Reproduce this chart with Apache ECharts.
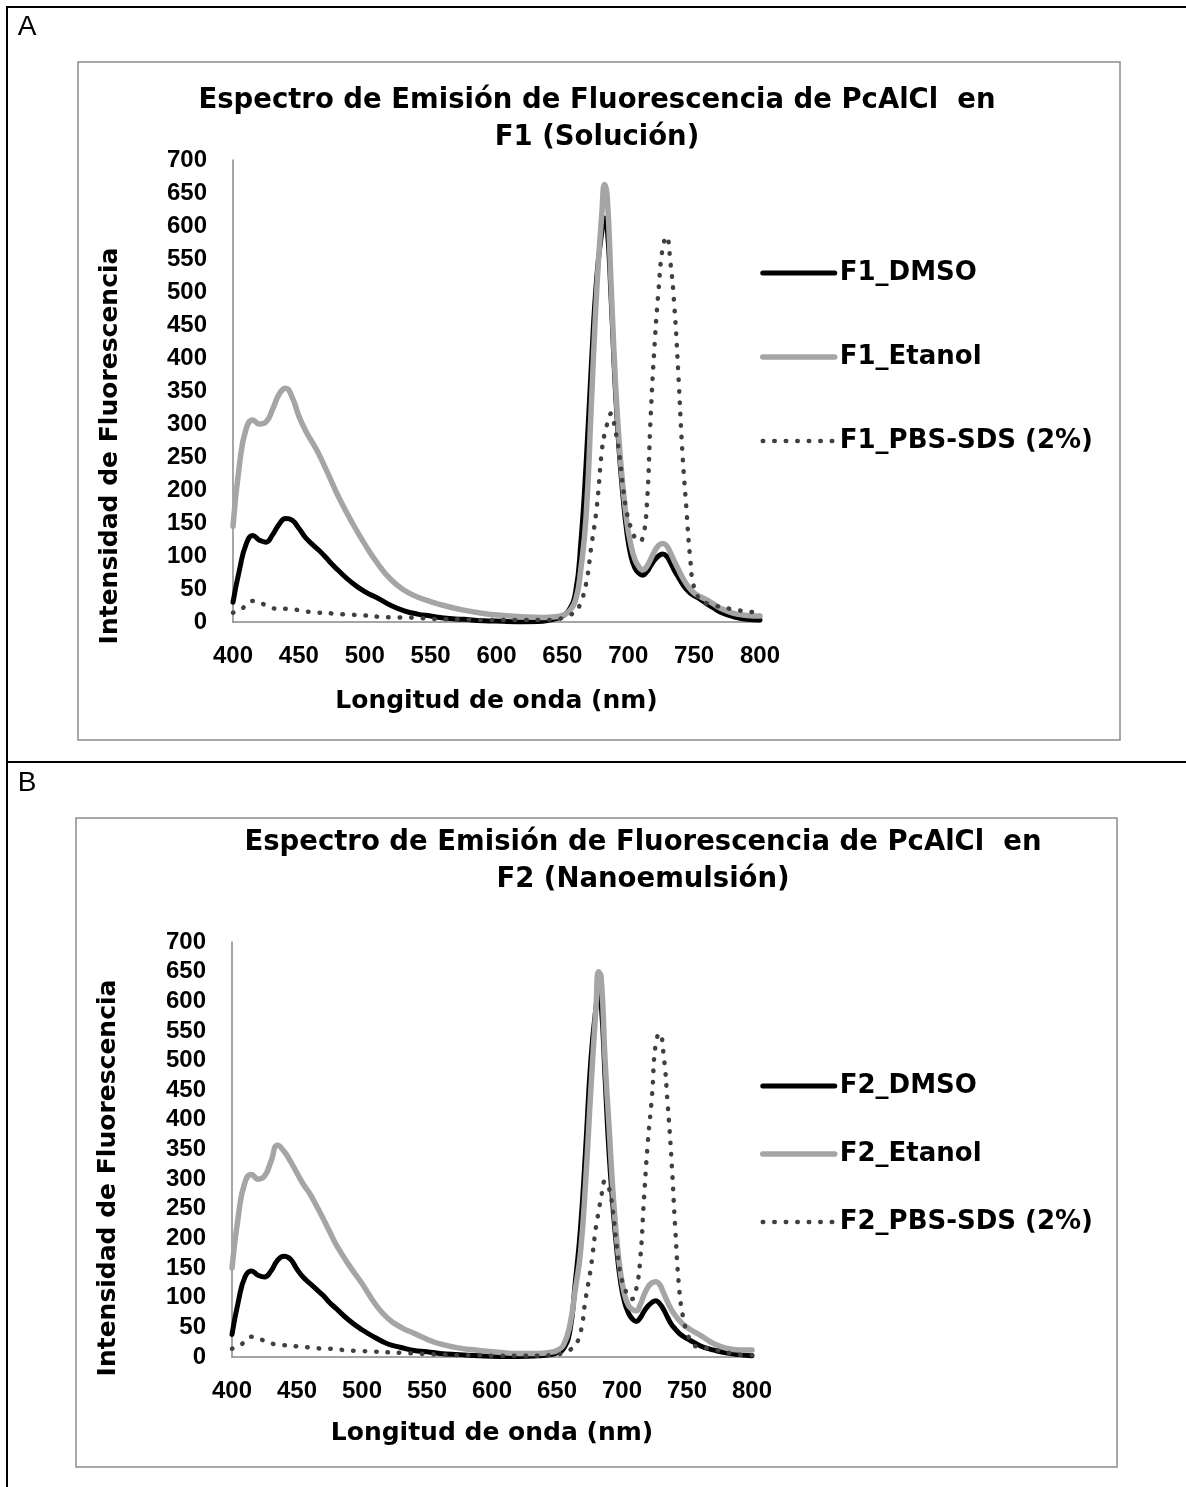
<!DOCTYPE html>
<html>
<head>
<meta charset="utf-8">
<script src="https://cdn.jsdelivr.net/npm/echarts@6/dist/echarts.min.js"></script>
<style>
  html, body { margin: 0; padding: 0; background: #fff; }
  #chart { width: 1186px; height: 1487px; }
</style>
</head>
<body>
<div id="chart"></div>
<script>
// wavelength grid (nm), shared by every series
var wavelengths = [400, 405, 410, 415, 420, 425, 430, 435, 440, 445, 450, 455, 460, 465, 470, 475, 480, 490, 500, 510,
  520, 530, 540, 550, 560, 575, 590, 605, 620, 635, 645, 650, 655, 660, 664, 668, 672, 676, 680, 682,
  684, 687, 690, 693, 696, 699, 702, 705, 708, 711, 714, 717, 720, 723, 726, 729, 732, 735, 738, 741,
  744, 747, 750, 755, 760, 765, 770, 780, 790, 800];

// panel A - F1 (Solucion)
var f1Dmso = [30, 80, 118, 131, 124, 121, 132, 148, 157, 154, 142, 128, 118, 109, 99, 88, 78, 60, 46, 36,
  25, 17, 12, 9, 6, 4, 2, 1, 0, 1, 5, 9, 18, 45, 120, 240, 390, 520, 592, 612,
  598, 490, 360, 262, 190, 135, 100, 82, 74, 71, 76, 85, 94, 100, 103, 100, 90, 78, 68, 58,
  50, 44, 40, 34, 27, 21, 15, 8, 4, 3];
var f1Etanol = [145, 240, 293, 306, 300, 303, 322, 345, 354, 340, 312, 290, 273, 255, 234, 212, 190, 152, 118, 88,
  64, 48, 38, 31, 25, 18, 13, 10, 8, 7, 8, 10, 16, 33, 80, 160, 330, 500, 620, 663,
  645, 510, 375, 275, 205, 150, 117, 95, 84, 79, 84, 95, 107, 116, 119, 116, 105, 92, 80, 68,
  58, 50, 44, 38, 33, 27, 21, 13, 10, 9];
var f1Pbs = [14, 18, 25, 32, 30, 25, 21, 20, 20, 19, 18, 16, 15, 14, 14, 13, 12, 11, 10, 8,
  7, 7, 6, 5, 4, 4, 3, 3, 3, 3, 4, 6, 10, 16, 30, 58, 115, 172, 260, 285,
  300, 316, 292, 258, 205, 165, 143, 128, 122, 128, 174, 310, 420, 503, 565, 584, 545, 478, 376, 260,
  175, 97, 52, 33, 28, 25, 23, 19, 16, 14];

// panel B - F2 (Nanoemulsion)
var f2Dmso = [38, 95, 135, 145, 138, 135, 145, 163, 170, 165, 148, 134, 124, 114, 104, 92, 82, 62, 46, 33,
  22, 16, 11, 9, 6, 4, 2, 1, 1, 2, 4, 7, 14, 45, 125, 215, 350, 500, 590, 610,
  595, 470, 345, 255, 180, 125, 92, 74, 64, 60, 66, 77, 86, 92, 95, 90, 80, 67, 55, 47,
  40, 35, 31, 25, 19, 15, 12, 7, 4, 2];
var f2Etanol = [150, 240, 295, 308, 300, 305, 330, 357, 347, 330, 310, 291, 275, 255, 234, 212, 190, 155, 124, 90,
  65, 50, 40, 30, 22, 15, 11, 8, 6, 6, 8, 11, 20, 55, 113, 175, 295, 450, 590, 650,
  640, 500, 390, 280, 197, 140, 105, 87, 80, 78, 88, 105, 118, 125, 127, 122, 108, 93, 80, 70,
  62, 55, 50, 43, 37, 30, 23, 15, 12, 12];
var f2Pbs = [14, 18, 26, 34, 32, 27, 23, 21, 20, 19, 18, 17, 16, 15, 14, 14, 13, 11, 10, 9,
  8, 7, 6, 5, 4, 3, 3, 2, 2, 2, 3, 4, 7, 12, 20, 40, 98, 150, 220, 245,
  270, 297, 285, 245, 186, 138, 118, 100, 98, 115, 164, 270, 366, 438, 530, 546, 510, 430, 335, 215,
  115, 67, 42, 20, 17, 15, 13, 8, 4, 3];

var namesA = ['F1_DMSO', 'F1_Etanol', 'F1_PBS-SDS (2%)'];
var namesB = ['F2_DMSO', 'F2_Etanol', 'F2_PBS-SDS (2%)'];
var titleLine1 = 'Espectro de Emisión de Fluorescencia de PcAlCl  en';

var colors = ['#000000', '#A5A5A5', '#404040'];
var widths = [5, 5.5, 4.5];
var dots = [0.5, 11];

var tickFont = { fontFamily: 'Liberation Sans', fontWeight: 'bold', fontSize: 24, color: '#000' };
var bigFont = 'bold 25px "DejaVu Sans"';
var titleFont = 'bold 27.5px "DejaVu Sans"';

function pairs(arr) {
  return wavelengths.map(function (w, i) { return [w, arr[i]]; });
}

function lineStyleFor(k) {
  return {
    color: colors[k],
    width: widths[k],
    type: k === 2 ? dots : 'solid',
    cap: 'round',
    join: 'round'
  };
}

function makeSeries(names, arrs, idx) {
  return arrs.map(function (arr, k) {
    return {
      name: names[k],
      type: 'line',
      xAxisIndex: idx,
      yAxisIndex: idx,
      data: pairs(arr),
      symbol: 'none',
      smooth: 0.5,
      color: colors[k],
      lineStyle: lineStyleFor(k),
      z: 2 + k
    };
  });
}

function xAx(idx, gap) {
  return {
    type: 'value', gridIndex: idx, min: 400, max: 800, interval: 50,
    axisLine: { show: true, lineStyle: { color: '#888', width: 1.5 } },
    axisTick: { show: false }, splitLine: { show: false },
    axisLabel: Object.assign({ margin: 22 }, tickFont),
    name: 'Longitud de onda (nm)', nameLocation: 'middle', nameGap: gap,
    nameTextStyle: { fontFamily: 'DejaVu Sans', fontWeight: 'bold', fontSize: 25, color: '#000' }
  };
}

function yAx(idx) {
  return {
    type: 'value', gridIndex: idx, min: 0, max: 700, interval: 50,
    axisLine: { show: true, lineStyle: { color: '#888', width: 1.5 } },
    axisTick: { show: false }, splitLine: { show: false },
    axisLabel: Object.assign({ margin: 26 }, tickFont)
  };
}

function legend(names, top, gap) {
  return {
    data: names.map(function (n, k) {
      return { name: n, itemStyle: { opacity: 0 }, lineStyle: lineStyleFor(k) };
    }),
    orient: 'vertical', left: 760, top: top, padding: 0,
    itemWidth: 72, itemHeight: 14, itemGap: gap, selectedMode: false,
    textStyle: { fontFamily: 'DejaVu Sans', fontWeight: 'bold', fontSize: 26, color: '#000', lineHeight: 30 }
  };
}

function txt(text, x, y, font, rot) {
  return {
    type: 'text', x: x, y: y, rotation: rot || 0, silent: true,
    style: { text: text, font: font, fill: '#000', align: 'center', verticalAlign: 'middle',
      textAlign: 'center', textVerticalAlign: 'middle' }
  };
}

function hline(x1, y1, x2, y2) {
  return { type: 'line', silent: true, shape: { x1: x1, y1: y1, x2: x2, y2: y2 },
    style: { stroke: '#000', lineWidth: 2 } };
}

var chart = echarts.init(document.getElementById('chart'));
chart.setOption({
  animation: false,
  backgroundColor: '#fff',
  grid: [
    { left: 233, top: 160, width: 527, height: 462 },
    { left: 232, top: 942, width: 520, height: 415 }
  ],
  xAxis: [xAx(0, 67), xAx(1, 64)],
  yAxis: [yAx(0), yAx(1)],
  legend: [legend(namesA, 258, 54), legend(namesB, 1071, 38)],
  series: makeSeries(namesA, [f1Dmso, f1Etanol, f1Pbs], 0)
    .concat(makeSeries(namesB, [f2Dmso, f2Etanol, f2Pbs], 1)),
  graphic: [
    hline(6, 7, 1186, 7),
    hline(7, 6, 7, 1487),
    hline(6, 762, 1186, 762),
    { type: 'rect', silent: true, shape: { x: 78, y: 62, width: 1042, height: 678 },
      style: { fill: 'none', stroke: '#8c8c8c', lineWidth: 1.5 } },
    { type: 'rect', silent: true, shape: { x: 76, y: 818, width: 1041, height: 649 },
      style: { fill: 'none', stroke: '#8c8c8c', lineWidth: 1.5 } },
    txt('A', 27, 27, '28px "Liberation Sans"'),
    txt('B', 27, 783, '28px "Liberation Sans"'),
    txt(titleLine1, 597, 101, titleFont),
    txt('F1 (Solución)', 597, 138, titleFont),
    txt(titleLine1, 643, 843, titleFont),
    txt('F2 (Nanoemulsión)', 643, 880, titleFont),
    txt('Intensidad de Fluorescencia', 110, 446, bigFont, Math.PI / 2),
    txt('Intensidad de Fluorescencia', 108, 1178, bigFont, Math.PI / 2)
  ]
});
</script>
</body>
</html>
